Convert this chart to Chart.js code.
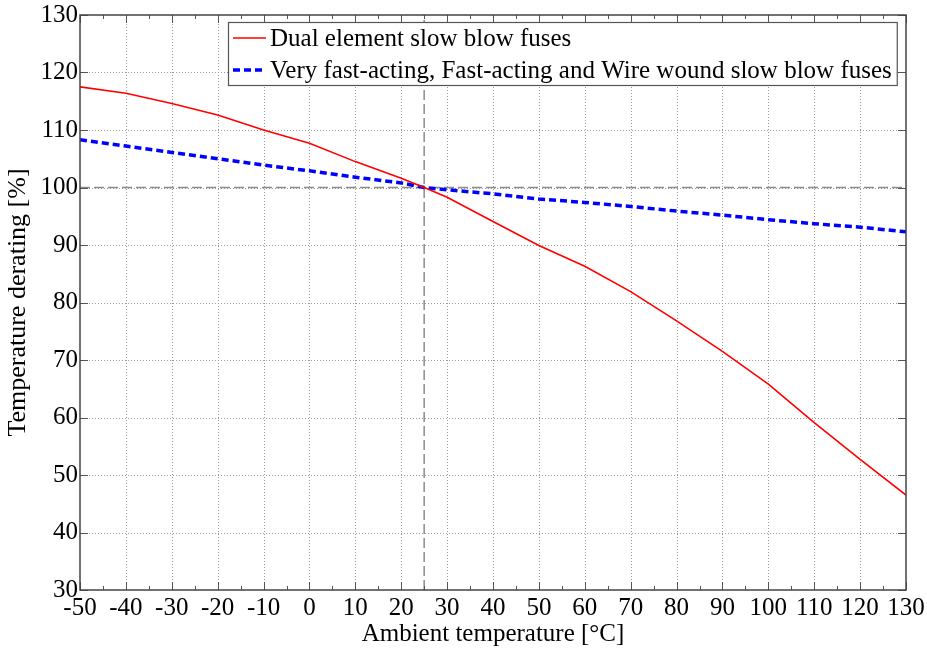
<!DOCTYPE html>
<html>
<head>
<meta charset="utf-8">
<script src="https://cdn.jsdelivr.net/npm/chart.js@4"></script>
<style>
  html, body { margin: 0; padding: 0; background: #fff; }
  #wrap { width: 927px; height: 649px; }
</style>
</head>
<body>
<div id="wrap"><canvas id="derating"></canvas></div>
<script>
// ambient temperature, °C
const temps = [-50, -40, -30, -20, -10, 0, 10, 20, 25, 30, 40, 50, 60, 70, 80, 90, 100, 110, 120, 130];
// dual element slow blow fuses, %
const dualElement = [117.5, 116.4, 114.6, 112.6, 110.0, 107.7, 104.5, 101.6, 100.0, 98.3, 94.1, 89.9, 86.3, 81.9, 76.8, 71.5, 65.8, 59.1, 52.7, 46.5];
// very fast-acting, fast-acting and wire wound slow blow fuses, %
const fastActing = [108.3, 107.2, 106.1, 105.0, 103.9, 102.9, 101.8, 100.8, 100.0, 99.6, 98.9, 98.0, 97.4, 96.7, 95.9, 95.2, 94.4, 93.7, 93.1, 92.3];
const seriesNames = ['Dual element slow blow fuses', 'Very fast-acting, Fast-acting and Wire wound slow blow fuses'];
const refTemp = 25;
const refLevel = 100;

const serif = "'Liberation Serif', 'Times New Roman', serif";
const fontSize = 25;

function pts(xs, ys) { return xs.map((x, i) => ({ x: x, y: ys[i] })); }

// dotted grid, frame with inward ticks, legend box
const frame = {
  id: 'frame',
  beforeDatasetsDraw(chart) {
    const { ctx, chartArea: a, scales: { x, y } } = chart;
    ctx.save();
    ctx.strokeStyle = '#9a9a9a';
    ctx.lineWidth = 1;
    ctx.setLineDash([1, 2]);
    for (let v = -40; v < 130; v += 10) {
      const px = Math.round(x.getPixelForValue(v)) + 0.5;
      ctx.beginPath(); ctx.moveTo(px, a.top); ctx.lineTo(px, a.bottom); ctx.stroke();
    }
    for (let v = 40; v < 130; v += 10) {
      const py = Math.round(y.getPixelForValue(v)) + 0.5;
      ctx.beginPath(); ctx.moveTo(a.left, py); ctx.lineTo(a.right, py); ctx.stroke();
    }
    ctx.restore();
  },
  afterDatasetsDraw(chart) {
    const { ctx, chartArea: a, scales: { x, y } } = chart;
    ctx.save();
    ctx.setLineDash([]);
    ctx.strokeStyle = '#555';
    ctx.lineWidth = 1;
    // ticks on x: major every 10, minor every 5
    for (let v = -50; v <= 130; v += 5) {
      const px = Math.round(x.getPixelForValue(v)) + 0.5;
      const len = v % 10 === 0 ? 8 : 4;
      ctx.beginPath();
      ctx.moveTo(px, a.bottom); ctx.lineTo(px, a.bottom - len);
      ctx.moveTo(px, a.top); ctx.lineTo(px, a.top + len);
      ctx.stroke();
    }
    for (let v = 30; v <= 130; v += 10) {
      const py = Math.round(y.getPixelForValue(v)) + 0.5;
      ctx.beginPath();
      ctx.moveTo(a.left, py); ctx.lineTo(a.left + 8, py);
      ctx.moveTo(a.right, py); ctx.lineTo(a.right - 8, py);
      ctx.stroke();
    }
    ctx.strokeStyle = '#444';
    ctx.lineWidth = 1.5;
    ctx.strokeRect(a.left, a.top, a.right - a.left, a.bottom - a.top);

    // legend
    ctx.font = fontSize + 'px ' + serif;
    const bx = 228, by = 22, lineLen = 33, gap = 4;
    const textX = bx + 5 + lineLen + gap;
    const w = Math.max(...seriesNames.map(n => ctx.measureText(n).width));
    const bw = textX - bx + w + 5, bh = 63;
    ctx.fillStyle = '#fff';
    ctx.fillRect(bx, by, bw, bh);
    ctx.strokeStyle = '#555';
    ctx.lineWidth = 1.2;
    ctx.strokeRect(bx + 0.5, by + 0.5, bw, bh);
    const rows = [by + 16, by + 48];
    chart.data.datasets.slice(0, 2).forEach((ds, i) => {
      ctx.strokeStyle = ds.borderColor;
      ctx.lineWidth = ds.borderWidth;
      ctx.setLineDash(ds.borderDash || []);
      ctx.beginPath();
      ctx.moveTo(bx + 5, rows[i]); ctx.lineTo(bx + 5 + lineLen, rows[i]);
      ctx.stroke();
      ctx.setLineDash([]);
      ctx.fillStyle = '#000';
      ctx.textBaseline = 'middle';
      ctx.fillText(seriesNames[i], textX, rows[i] + 1);
    });
    ctx.restore();
  }
};

new Chart(document.getElementById('derating'), {
  type: 'line',
  data: {
    datasets: [
      {
        label: seriesNames[0],
        data: pts(temps, dualElement),
        borderColor: '#ff0000',
        borderWidth: 1.6,
        pointRadius: 0,
        tension: 0
      },
      {
        label: seriesNames[1],
        data: pts(temps, fastActing),
        borderColor: '#0000ff',
        borderWidth: 3.5,
        borderDash: [7, 4],
        pointRadius: 0,
        tension: 0
      },
      {
        label: 'ref-h',
        data: [{ x: -50, y: refLevel }, { x: 130, y: refLevel }],
        borderColor: '#8c8c8c',
        borderWidth: 1.5,
        borderDash: [10, 4],
        pointRadius: 0
      },
      {
        label: 'ref-v',
        data: [{ x: refTemp, y: 30 }, { x: refTemp, y: 130 }],
        borderColor: '#8c8c8c',
        borderWidth: 1.5,
        borderDash: [10, 4],
        pointRadius: 0
      }
    ]
  },
  options: {
    responsive: true,
    maintainAspectRatio: false,
    animation: false,
    layout: { padding: { left: 0, right: 21, top: 15, bottom: 0 } },
    plugins: {
      legend: { display: false },
      tooltip: { enabled: false }
    },
    scales: {
      x: {
        type: 'linear',
        min: -50,
        max: 130,
        afterFit(s) { s.height = 59; },
        afterBuildTicks(s) { s.ticks = temps.filter(t => t % 10 === 0).map(v => ({ value: v })); },
        grid: { display: false },
        border: { display: false },
        ticks: {
          color: '#000',
          font: { family: serif, size: fontSize },
          padding: -5,
          maxRotation: 0,
          autoSkip: false
        },
        title: {
          display: true,
          text: 'Ambient temperature [°C]',
          color: '#000',
          font: { family: serif, size: fontSize },
          padding: { top: 0, bottom: 0 }
        }
      },
      y: {
        min: 30,
        max: 130,
        afterFit(s) { s.width = 80; },
        grid: { display: false },
        border: { display: false },
        ticks: {
          stepSize: 10,
          color: '#000',
          font: { family: serif, size: fontSize },
          padding: -6
        },
        title: {
          display: true,
          text: 'Temperature derating [%]',
          color: '#000',
          font: { family: serif, size: 26 },
          padding: { top: 3, bottom: 0 }
        }
      }
    }
  },
  plugins: [frame]
});
</script>
</body>
</html>
